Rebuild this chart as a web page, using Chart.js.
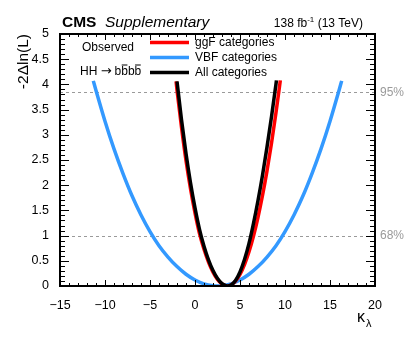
<!DOCTYPE html>
<html>
<head>
<meta charset="utf-8">
<script src="https://cdn.jsdelivr.net/npm/chart.js@4"></script>
<style>
  html, body { margin: 0; padding: 0; background: #fff; }
  #nllChart { display: block; }
</style>
</head>
<body>
<canvas id="nllChart" width="407" height="337"></canvas>
<script>
// kappa_lambda scan points, -2 delta ln L per point
const kappaGgf = [-2.1, -2, -1.5, -1, -0.5, 0, 0.5, 1, 1.5, 2, 2.5, 3, 3.6, 4, 4.5, 5, 5.5, 6, 6.5, 7, 7.5, 8, 8.5, 9, 9.48];
const nllGgf = [4.06, 3.89, 3.15, 2.49, 1.93, 1.45, 1.04, 0.73, 0.476, 0.276, 0.131, 0.039, 0, 0.019, 0.096, 0.231, 0.426, 0.68, 0.992, 1.364, 1.795, 2.284, 2.833, 3.441, 4.08];

const kappaVbf = [-11.3, -11, -10, -9, -8, -7, -6, -5, -4, -3, -2, -1, 0, 1, 2, 2.5, 3, 4, 5, 6, 7, 8, 9, 10, 11, 12, 13, 14, 15, 16, 16.3];
const nllVbf = [4.07, 3.88, 3.27, 2.72, 2.23, 1.79, 1.41, 1.08, 0.8, 0.575, 0.385, 0.233, 0.119, 0.043, 0.005, 0, 0.005, 0.043, 0.119, 0.233, 0.385, 0.575, 0.8, 1.08, 1.41, 1.79, 2.23, 2.72, 3.27, 3.88, 4.07];

const kappaAll = [-2, -1.5, -1, -0.5, 0, 0.5, 1, 1.5, 2, 2.5, 3, 3.5, 3.65, 4, 4.5, 5, 5.5, 6, 6.5, 7, 7.5, 8, 8.5, 9, 9.05];
const nllAll = [4.06, 3.3, 2.63, 2.05, 1.55, 1.125, 0.79, 0.52, 0.307, 0.149, 0.048, 0.003, 0, 0.019, 0.111, 0.279, 0.524, 0.845, 1.243, 1.696, 2.198, 2.755, 3.359, 4.01, 4.08];

const xTicks = [-15, -10, -5, 0, 5, 10, 15, 20];
const yTicks = [0, 0.5, 1, 1.5, 2, 2.5, 3, 3.5, 4, 4.5, 5];
const clLevels = [3.84, 1];
const clLabels = ["95%", "68%"];

const FONT = "'Liberation Sans', Arial, Helvetica, sans-serif";

function points(xs, ys) {
  return xs.map((x, i) => ({ x: x, y: ys[i] }));
}

// dashed CL lines under the curves
const clLinesPlugin = {
  id: "clLines",
  beforeDatasetsDraw(chart) {
    const ctx = chart.ctx, area = chart.chartArea, ys = chart.scales.y;
    ctx.save();
    ctx.strokeStyle = "#9a9a9a";
    ctx.lineWidth = 1;
    ctx.setLineDash([3, 3]);
    clLevels.forEach(v => {
      const py = Math.round(ys.getPixelForValue(v)) + 0.5;
      ctx.beginPath();
      ctx.moveTo(area.left, py);
      ctx.lineTo(area.right, py);
      ctx.stroke();
    });
    ctx.restore();
  }
};

// ROOT style frame, inward ticks and all the labels
const decorPlugin = {
  id: "decor",
  afterDraw(chart) {
    const ctx = chart.ctx, a = chart.chartArea;
    const xs = chart.scales.x, ys = chart.scales.y;
    ctx.save();

    // ticks
    ctx.strokeStyle = "#000";
    ctx.lineWidth = 1;
    ctx.beginPath();
    for (let v = -15; v <= 20; v += 1) {
      const px = Math.round(xs.getPixelForValue(v)) + 0.5;
      const len = (v % 5 === 0) ? 6 : 3;
      ctx.moveTo(px, a.bottom); ctx.lineTo(px, a.bottom - len);
      ctx.moveTo(px, a.top); ctx.lineTo(px, a.top + len);
    }
    for (let i = 0; i <= 50; i++) {
      const v = i / 10;
      const py = Math.round(ys.getPixelForValue(v)) + 0.5;
      const len = (i % 5 === 0) ? 9 : 5;
      ctx.moveTo(a.left, py); ctx.lineTo(a.left + len, py);
      ctx.moveTo(a.right, py); ctx.lineTo(a.right - len, py);
    }
    ctx.stroke();

    // frame
    ctx.lineWidth = 2;
    ctx.strokeRect(a.left, a.top, a.right - a.left, a.bottom - a.top);

    // CL labels
    ctx.fillStyle = "#9a9a9a";
    ctx.font = "12px " + FONT;
    ctx.textBaseline = "middle";
    ctx.textAlign = "left";
    clLevels.forEach((v, i) => {
      ctx.fillText(clLabels[i], a.right + 5, ys.getPixelForValue(v));
    });

    // header
    ctx.fillStyle = "#000";
    ctx.textBaseline = "alphabetic";
    ctx.font = "bold 15.5px " + FONT;
    ctx.fillText("CMS", 62, 27);
    ctx.font = "italic 15.5px " + FONT;
    ctx.fillText("Supplementary", 105, 27);

    const big = "12px " + FONT, small = "8px " + FONT;
    const parts = [["138 fb", big, 0], ["-1", small, -5], [" (13 TeV)", big, 0]];
    let total = 0;
    parts.forEach(p => { ctx.font = p[1]; total += ctx.measureText(p[0]).width; });
    let cx = 363 - total;
    parts.forEach(p => {
      ctx.font = p[1];
      ctx.fillText(p[0], cx, 27 + p[2]);
      cx += ctx.measureText(p[0]).width;
    });

    // y title
    ctx.save();
    ctx.translate(28, 34);
    ctx.rotate(-Math.PI / 2);
    ctx.font = "15.5px " + FONT;
    ctx.textAlign = "right";
    ctx.fillText("-2\u0394ln(L)", 0, 0);
    ctx.restore();

    // x title kappa_lambda
    ctx.font = "16px " + FONT;
    ctx.textAlign = "left";
    ctx.fillText("\u03ba", 357, 322);
    ctx.font = "11px " + FONT;
    ctx.fillText("\u03bb", 366, 327);

    // legend
    ctx.font = "12px " + FONT;
    ctx.textBaseline = "middle";
    const legendOrder = [0, 1, 2];
    legendOrder.forEach((di, row) => {
      const ds = chart.data.datasets[di];
      const ly = 42.5 + row * 15;
      ctx.strokeStyle = ds.borderColor;
      ctx.lineWidth = 3.5;
      ctx.beginPath();
      ctx.moveTo(150, ly);
      ctx.lineTo(189, ly);
      ctx.stroke();
      ctx.fillText(ds.label, 195, ly + 0.5);
    });

    ctx.textAlign = "center";
    ctx.fillText("Observed", 108, 47.5);

    // HH -> b bbar b bbar
    ctx.textAlign = "left";
    const hy = 71.5;
    let hx = 80;
    ctx.fillText("HH ", hx, hy);
    hx += ctx.measureText("HH ").width;
    ctx.font = "13px 'DejaVu Sans', sans-serif";
    ctx.fillText("\u2192", hx, hy);
    hx += ctx.measureText("\u2192").width + 3;
    ctx.font = "12px " + FONT;
    const bw = ctx.measureText("b").width;
    ctx.lineWidth = 1;
    ctx.strokeStyle = "#000";
    for (let k = 0; k < 4; k++) {
      ctx.fillText("b", hx, hy);
      if (k % 2 === 1) {
        ctx.beginPath();
        ctx.moveTo(hx + 0.5, hy - 6.5);
        ctx.lineTo(hx + bw - 0.5, hy - 6.5);
        ctx.stroke();
      }
      hx += bw;
    }

    ctx.restore();
  }
};

const chartCanvas = document.getElementById("nllChart");
const nllChart = new Chart(chartCanvas, {
  type: "line",
  data: {
    datasets: [
      {
        label: "ggF categories",
        data: points(kappaGgf, nllGgf),
        borderColor: "#ff0000",
        order: 1
      },
      {
        label: "VBF categories",
        data: points(kappaVbf, nllVbf),
        borderColor: "#3399ff",
        order: 2
      },
      {
        label: "All categories",
        data: points(kappaAll, nllAll),
        borderColor: "#000000",
        order: 0
      }
    ]
  },
  options: {
    responsive: false,
    animation: false,
    devicePixelRatio: 1,
    layout: { padding: { left: 0, right: 32, top: 34, bottom: 0 } },
    elements: {
      point: { radius: 0 },
      line: { borderWidth: 3.5, fill: false, cubicInterpolationMode: "monotone" }
    },
    plugins: {
      legend: { display: false },
      tooltip: { enabled: false }
    },
    scales: {
      x: {
        type: "linear",
        min: -15,
        max: 20,
        grid: { display: false },
        border: { display: false },
        afterFit: s => { s.height = 51; },
        afterBuildTicks: s => { s.ticks = xTicks.map(v => ({ value: v })); },
        ticks: {
          autoSkip: false,
          maxRotation: 0,
          padding: 4,
          color: "#000",
          font: { family: FONT, size: 12.5 },
          callback: v => (v < 0 ? "\u2212" + Math.abs(v) : String(v))
        }
      },
      y: {
        type: "linear",
        min: 0,
        max: 5,
        grid: { display: false },
        border: { display: false },
        afterFit: s => { s.width = 60; },
        afterBuildTicks: s => { s.ticks = yTicks.map(v => ({ value: v })); },
        ticks: {
          autoSkip: false,
          padding: 3,
          color: "#000",
          font: { family: FONT, size: 12.5 },
          callback: v => String(v)
        }
      }
    }
  },
  plugins: [clLinesPlugin, decorPlugin]
});
</script>
</body>
</html>
